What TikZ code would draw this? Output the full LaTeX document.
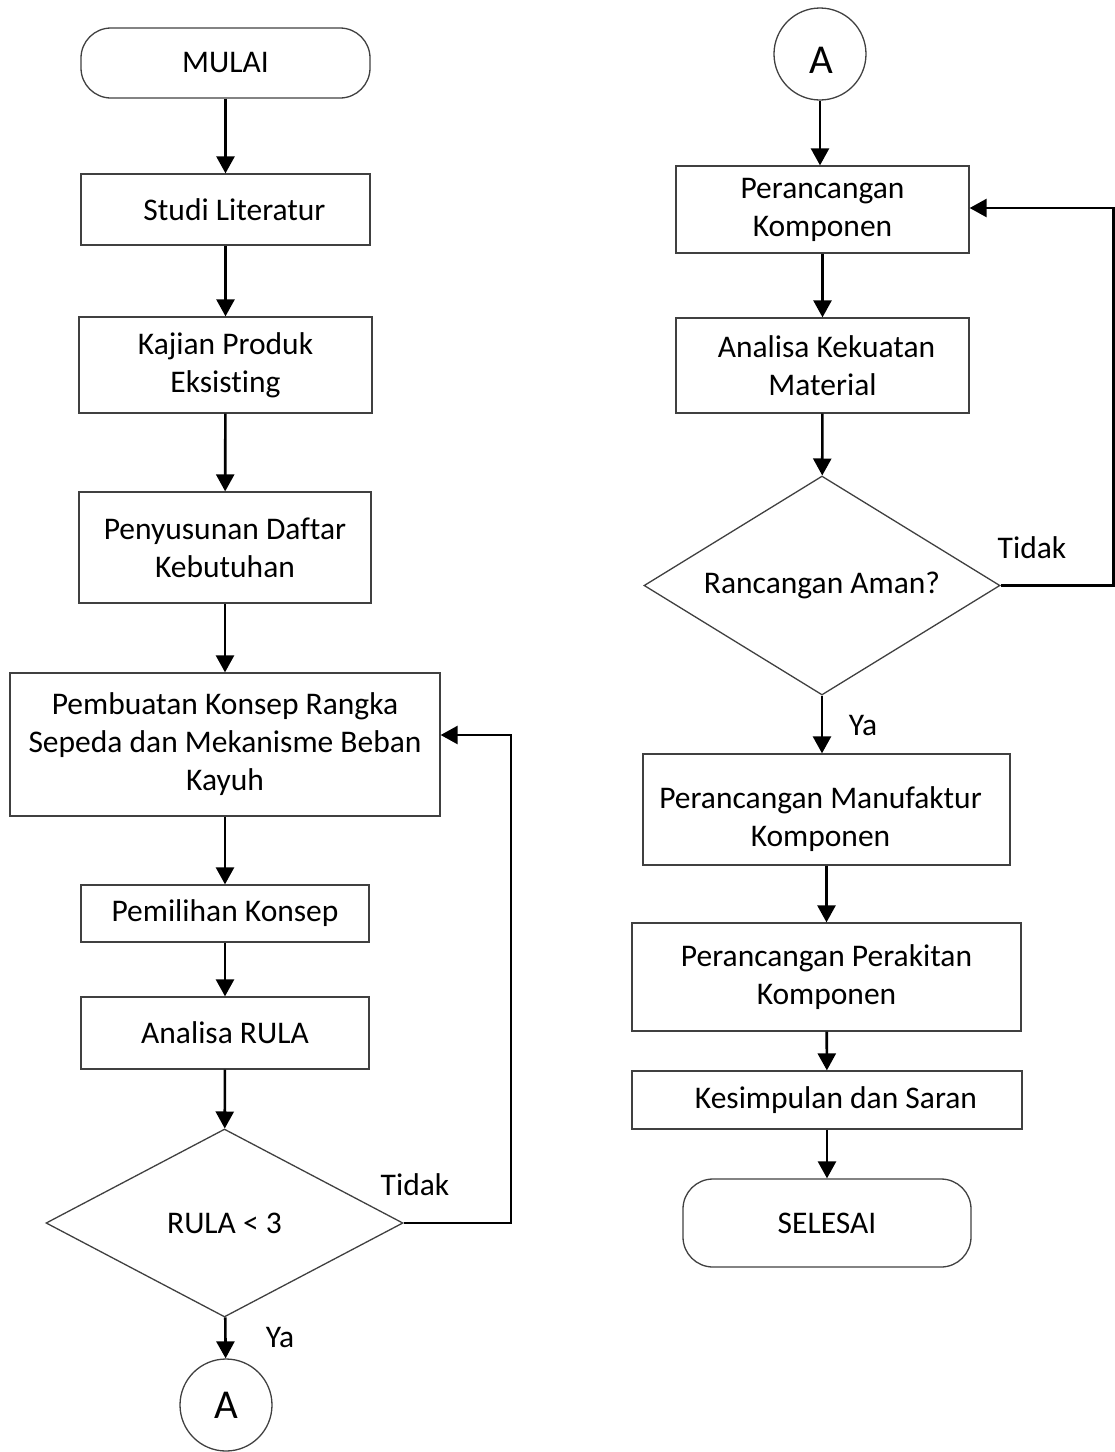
\documentclass[tikz,border=0pt]{standalone}
\usepackage{fontspec}
\setmainfont{Carlito}[Ligatures={NoCommon}]
\usetikzlibrary{shapes.geometric,arrows.meta}
\begin{document}
\begin{tikzpicture}[x=1pt,y=-1pt,
  txt/.style={font=\fontsize{31.5}{38}\selectfont},
  box/.style={txt, draw=black!75, line width=1.3pt, inner sep=0pt, align=center},
  term/.style={box, rounded corners=30pt},
  dec/.style={txt, draw=black!75, line width=1.3pt, diamond, inner sep=0pt},
  conn/.style={draw=black!75, line width=1.3pt, circle, inner sep=0pt, minimum size=92pt, font=\fontsize{41}{41}\selectfont},
  arr/.style={line width=2.6pt, -{Triangle[width=18pt,length=17pt]}},
  lbl/.style={txt, inner sep=0pt}]
\useasboundingbox (0,0) rectangle (1115,1452);

% left column
\node[term, minimum width=289pt, minimum height=70pt] (mulai) at (225.5,63) {MULAI};
\node[box, minimum width=289pt, minimum height=71pt] (studi) at (225.5,209.5) {\hspace*{18pt}Studi Literatur};
\node[box, minimum width=293pt, minimum height=96pt] (kajian) at (225.5,365) {Kajian Produk\\Eksisting};
\node[box, minimum width=292pt, minimum height=111pt] (susun) at (225,547.5) {Penyusunan Daftar\\Kebutuhan};
\node[box, minimum width=430pt, minimum height=143pt] (pemb) at (225,744.5) {Pembuatan Konsep Rangka\\Sepeda dan Mekanisme Beban\\Kayuh};
\node[box, minimum width=288pt, minimum height=57pt] (pilih) at (225,913.5) {Pemilihan Konsep};
\node[box, minimum width=288pt, minimum height=72pt] (rula) at (225,1033) {Analisa RULA};
\node[dec, minimum width=357pt, minimum height=188pt, shape aspect=1.9] (drula) at (224.5,1223) {RULA < 3};
\node[conn] (aL) at (226,1405) {A};
\node[lbl] (tidakL) at (415,1185) {Tidak};
\node[lbl] (yaL) at (280,1337) {Ya};
\coordinate (fbL) at (511,735);

\draw[arr] (mulai) -- (studi);
\draw[arr] (studi) -- (kajian);
\draw[arr] (kajian) -- (susun);
\draw[arr] (susun) -- (pemb);
\draw[arr] (pemb) -- (pilih);
\draw[arr] (pilih) -- (rula);
\draw[arr] (rula) -- (drula);
\draw[arr] (drula) -- (aL);
\draw[arr] (drula.east) -| (fbL) -- (fbL -| pemb.east);

% right column
\node[conn] (aR) at (820,54) {};
\node[font=\fontsize{41}{41}\selectfont, inner sep=0pt] (aRT) at (821,60) {A};
\node[box, minimum width=293pt, minimum height=87pt] (pk) at (822.5,209.5) {Perancangan\\Komponen};
\node[box, minimum width=293pt, minimum height=95pt] (akm) at (822.5,365.5) {\hspace*{8pt}Analisa Kekuatan\\Material};
\node[dec, minimum width=356pt, minimum height=219pt, shape aspect=1.63] (daman) at (822,585.5) {Rancangan Aman?};
\node[box, minimum width=367pt, minimum height=111pt] (pmk) at (826.5,809.5) {};
\node[txt, align=center, inner sep=0pt] (pmkT) at (820.5,819) {Perancangan Manufaktur\\Komponen};
\node[box, minimum width=389pt, minimum height=108pt] (ppk) at (826.5,977) {Perancangan Perakitan\\Komponen};
\node[box, minimum width=390pt, minimum height=58pt] (kds) at (827,1100) {\hspace*{18pt}Kesimpulan dan Saran};
\node[term, minimum width=288pt, minimum height=88pt] (selesai) at (827,1223) {SELESAI};
\node[lbl] (tidakR) at (1032,548) {Tidak};
\node[lbl] (yaR) at (863,725) {Ya};
\coordinate (fbR) at (1113.5,208);

\draw[arr] (aR.south) -- (aR.south |- pk.north);
\draw[arr] (pk) -- (akm);
\draw[arr] (akm) -- (daman);
\draw[arr] (daman.south) -- (daman.south |- pmk.north);
\draw[arr] (pmk) -- (ppk);
\draw[arr] (ppk) -- (kds);
\draw[arr] (kds) -- (selesai);
\draw[arr] (daman.east) -| (fbR) -- (fbR -| pk.east);
\end{tikzpicture}
\end{document}
